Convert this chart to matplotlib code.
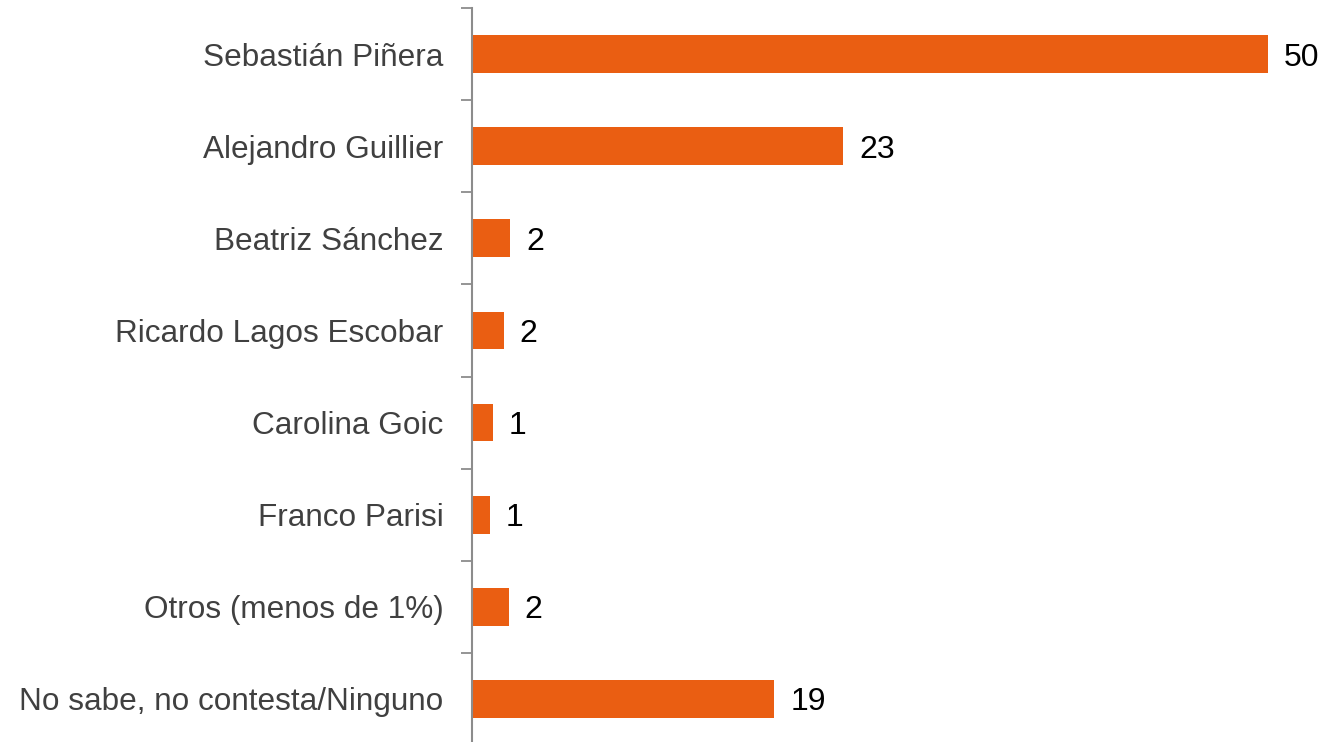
import numpy as np
import matplotlib.pyplot as plt

# data (bar lengths vs. rounded labels)
candidates = [
    "Sebastián Piñera",
    "Alejandro Guillier",
    "Beatriz Sánchez",
    "Ricardo Lagos Escobar",
    "Carolina Goic",
    "Franco Parisi",
    "Otros (menos de 1%)",
    "No sabe, no contesta/Ninguno",
]
values = [50.0, 23.3, 2.4, 2.0, 1.3, 1.1, 2.3, 19.0]
labels = ["50", "23", "2", "2", "1", "1", "2", "19"]

BAR_COLOR = "#EA5E12"
AXIS_GRAY = "#8C8C8C"

plt.rcParams["font.family"] = ["Liberation Sans", "DejaVu Sans"]

fig = plt.figure(figsize=(13.24, 7.42), dpi=100)
ax = fig.add_axes([472 / 1324, -3 / 742, (1268 - 472) / 1324, 737 / 742])

y = np.arange(len(candidates))
ax.barh(y, values, height=0.41, color=BAR_COLOR)

for yi, v, lab in zip(y, values, labels):
    ax.annotate(lab, xy=(v, yi), xytext=(11.5, 0), textcoords="offset points",
                ha="left", va="center_baseline", fontsize=23, color="black",
                annotation_clip=False)

ax.set_xlim(0, 50)
ax.set_ylim(len(candidates) - 0.5, -0.5)

ax.set_yticks(y)
ax.set_yticklabels(candidates, fontsize=22.7, color="#404040")
ax.set_yticks(np.arange(len(candidates)) - 0.5, minor=True)
ax.tick_params(axis="y", which="major", length=0, pad=20.5)
ax.tick_params(axis="y", which="minor", length=8, width=1.3, color=AXIS_GRAY)
ax.set_xticks([])

for side in ["top", "right", "bottom"]:
    ax.spines[side].set_visible(False)
ax.spines["left"].set_color(AXIS_GRAY)
ax.spines["left"].set_linewidth(1.5)

plt.savefig("out.png", dpi=100)
